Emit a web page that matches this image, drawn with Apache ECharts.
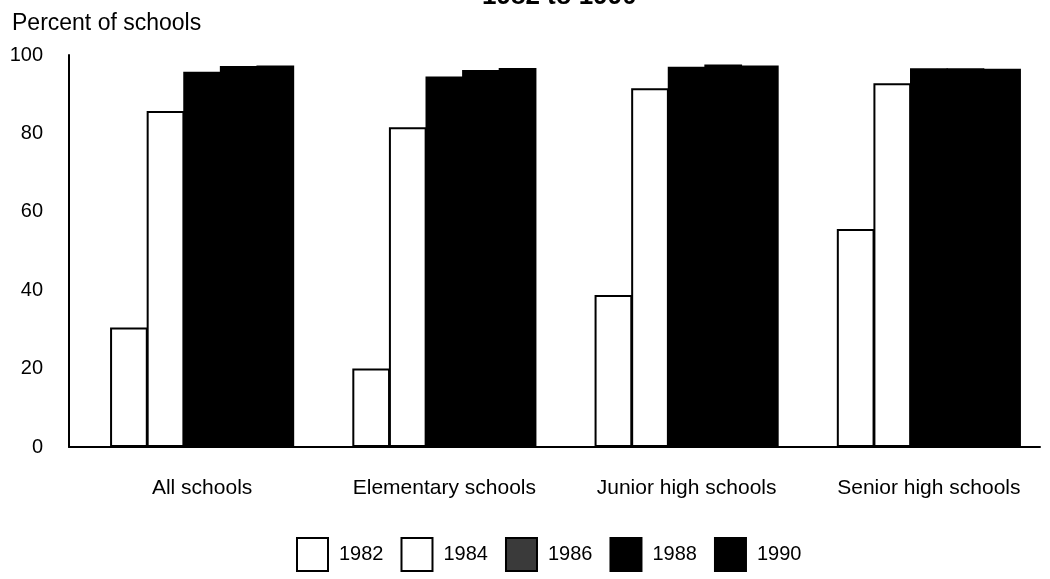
<!DOCTYPE html>
<html>
<head>
<meta charset="utf-8">
<script src="https://cdn.jsdelivr.net/npm/echarts@6/dist/echarts.min.js"></script>
<style>
html,body{margin:0;padding:0;background:#fff;}
#c{width:1050px;height:579px;}
</style>
</head>
<body>
<div id="c"></div>
<script>
var categories = ['All schools', 'Elementary schools', 'Junior high schools', 'Senior high schools'];
var years = ['1982', '1984', '1986', '1988', '1990'];
var y1982 = [30.5, 20, 38.8, 55.6];
var y1984 = [85.7, 81.6, 91.5, 92.8];
var y1986 = [95.7, 94.5, 97, 96.6];
var y1988 = [97.2, 96.2, 97.6, 96.6];
var y1990 = [97.3, 96.7, 97.3, 96.5];
var yTicks = [0, 20, 40, 60, 80, 100];

var seriesValues = [y1982, y1984, y1986, y1988, y1990];
var fills = ['#ffffff', '#ffffff', '#000000', '#000000', '#000000'];
var legendFills = ['#ffffff', '#ffffff', '#3a3a3a', '#000000', '#000000'];
var font = 'Liberation Sans, Arial, Helvetica, sans-serif';

var chart = echarts.init(document.getElementById('c'), null, {renderer: 'canvas'});

var series = years.map(function (y, i) {
  return {
    name: y,
    type: 'bar',
    xAxisIndex: 1,
    yAxisIndex: 1,
    data: seriesValues[i],
    barGap: '-3%',
    barCategoryGap: '24%',
    itemStyle: {color: fills[i], borderColor: '#000', borderWidth: 2}
  };
});

chart.setOption({
  animation: false,
  backgroundColor: '#ffffff',
  title: [
    {text: '1982 to 1990', left: 477, top: -21,
     textStyle: {fontFamily: font, fontSize: 26, fontWeight: 'bold', color: '#000'}},
    {text: 'Percent of schools', left: 7, top: 7,
     textStyle: {fontFamily: font, fontSize: 23, fontWeight: 'normal', color: '#000'}}
  ],
  legend: {
    left: 291, top: 532,
    itemWidth: 31, itemHeight: 33, itemGap: 17,
    icon: 'rect',
    textStyle: {fontFamily: font, fontSize: 20, color: '#000', padding: [0, 0, 0, 6]},
    data: years.map(function (y, i) {
      return {name: y, itemStyle: {color: legendFills[i], borderColor: '#000', borderWidth: 2}};
    })
  },
  grid: [
    {left: 69, right: 10, top: 55, bottom: 132},
    {left: 81, right: 0, top: 55, bottom: 132}
  ],
  xAxis: [
    {type: 'category', gridIndex: 0, data: categories,
     axisLine: {show: true, lineStyle: {color: '#000', width: 2}},
     axisTick: {show: false}, axisLabel: {show: false}, splitLine: {show: false}},
    {type: 'category', gridIndex: 1, data: categories,
     axisLine: {show: false}, axisTick: {show: false},
     axisLabel: {show: true, margin: 31, fontFamily: font, fontSize: 21, color: '#000'}}
  ],
  yAxis: [
    {type: 'value', gridIndex: 0, min: yTicks[0], max: yTicks[yTicks.length - 1], interval: 20,
     axisLine: {show: true, lineStyle: {color: '#000', width: 2}},
     axisTick: {show: false}, splitLine: {show: false},
     axisLabel: {margin: 26, fontFamily: font, fontSize: 20, color: '#000'}},
    {type: 'value', gridIndex: 1, min: 0, max: 100, interval: 20,
     axisLine: {show: false}, axisTick: {show: false}, splitLine: {show: false},
     axisLabel: {show: false}}
  ],
  series: series
});
</script>
</body>
</html>
